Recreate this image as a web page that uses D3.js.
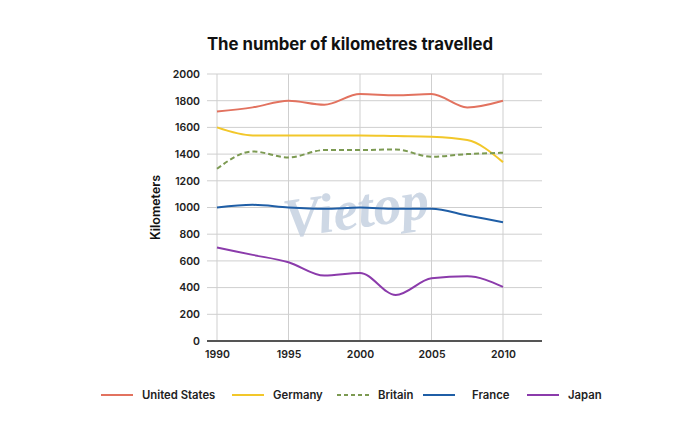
<!DOCTYPE html>
<html>
<head>
<meta charset="utf-8">
<script src="https://cdn.jsdelivr.net/npm/d3@7/dist/d3.min.js"></script>
<style>
  html, body { margin: 0; padding: 0; background: #ffffff; }
  svg { display: block; font-family: Inter, "Noto Sans", sans-serif; }
</style>
</head>
<body>
<svg id="chart" width="700" height="436"></svg>
<script>
const years = [1990, 1992.5, 1995, 1997.5, 2000, 2002.5, 2005, 2007.5, 2010];
const xTicks = [1990, 1995, 2000, 2005, 2010];
const yTicks = [0, 200, 400, 600, 800, 1000, 1200, 1400, 1600, 1800, 2000];
const seriesNames = ["United States", "Germany", "Britain", "France", "Japan"];
const unitedStates = [1720, 1750, 1800, 1770, 1850, 1840, 1850, 1750, 1800];
const germany      = [1600, 1540, 1540, 1540, 1540, 1535, 1530, 1505, 1340];
const britain      = [1290, 1420, 1375, 1430, 1430, 1435, 1380, 1400, 1410];
const france       = [1000, 1020, 1000, 990, 1000, 990, 990, 940, 890];
const japan        = [700, 645, 590, 490, 510, 345, 470, 485, 405];
const seriesValues = [unitedStates, germany, britain, france, japan];
const colors = ["#e2725f", "#f2c72a", "#7c9a52", "#1f5ea6", "#8b3bab"];
const dashes = [null, null, "5,3", null, null];

const svg = d3.select("#chart");
const pLeft = 207, pRight = 542, pTop = 74, pBottom = 341;
const x = d3.scaleLinear().domain([1990, 2010]).range([217, 503]);
const y = d3.scaleLinear().domain([0, 2000]).range([pBottom, pTop]);

// Title
svg.append("text").attr("x", 350).attr("y", 50).attr("text-anchor", "middle")
  .attr("font-size", 16.8).attr("font-weight", 700).attr("fill", "#111")
  .text("The number of kilometres travelled");

// horizontal grid
svg.append("g").selectAll("line").data(yTicks.filter(d => d > 0)).join("line")
  .attr("x1", pLeft).attr("x2", pRight)
  .attr("y1", d => y(d)).attr("y2", d => y(d))
  .attr("stroke", "#cfcfcf").attr("stroke-width", 1);
// vertical grid
svg.append("g").selectAll("line").data(xTicks).join("line")
  .attr("x1", d => x(d)).attr("x2", d => x(d))
  .attr("y1", pTop).attr("y2", pBottom)
  .attr("stroke", "#cfcfcf").attr("stroke-width", 1);

// y axis labels
const yAxis = d3.axisLeft(y).tickValues(yTicks).tickSize(0).tickPadding(0).tickFormat(d3.format("d"));
const gy = svg.append("g").attr("transform", `translate(${pLeft - 7},0)`).call(yAxis);
gy.select(".domain").remove();
gy.selectAll("text").attr("font-size", 10.5).attr("font-weight", 600).attr("fill", "#222")
  .attr("font-family", "Inter, sans-serif");

// x axis
const xAxis = d3.axisBottom(x).tickValues(xTicks).tickSize(0).tickPadding(10).tickFormat(d3.format("d"));
const gx = svg.append("g").attr("transform", `translate(0,${pBottom})`).call(xAxis);
gx.select(".domain").remove();
gx.selectAll("text").attr("font-size", 10.5).attr("font-weight", 600).attr("fill", "#222")
  .attr("font-family", "Inter, sans-serif");
svg.append("line").attr("x1", pLeft).attr("x2", pRight).attr("y1", pBottom).attr("y2", pBottom)
  .attr("stroke", "#555").attr("stroke-width", 2);

// y title
svg.append("text").attr("transform", `translate(160,${(pTop + pBottom) / 2}) rotate(-90)`)
  .attr("text-anchor", "middle").attr("font-size", 12.5).attr("font-weight", 600).attr("fill", "#111")
  .text("Kilometers");

// watermark
svg.append("text").attr("x", 356).attr("y", 228).attr("text-anchor", "middle")
  .attr("font-family", "'Liberation Serif', serif").attr("font-style", "italic").attr("font-weight", 700)
  .attr("font-size", 56).attr("fill", "#c3cfdf").attr("opacity", 0.8)
  .attr("transform", "rotate(-8,356,210)")
  .text("Vietop");

// lines
const line = d3.line().x((d, i) => x(years[i])).y(d => y(d)).curve(d3.curveMonotoneX);
svg.append("g").selectAll("path").data(seriesValues).join("path")
  .attr("d", d => line(d))
  .attr("fill", "none")
  .attr("stroke", (d, i) => colors[i])
  .attr("stroke-width", 2)
  .attr("stroke-dasharray", (d, i) => dashes[i]);

// legend
const legendX = [101, 232, 337, 423, 527];
const lg = svg.append("g").selectAll("g").data(seriesNames).join("g")
  .attr("transform", (d, i) => `translate(${legendX[i]},395)`);
lg.append("line").attr("x1", 0).attr("x2", 32).attr("y1", 0).attr("y2", 0)
  .attr("stroke", (d, i) => colors[i]).attr("stroke-width", 2)
  .attr("stroke-dasharray", (d, i) => dashes[i] ? "4,3" : null);
lg.append("text").attr("x", (d, i) => i === 3 ? 49 : 41).attr("y", 4)
  .attr("font-size", 11.3).attr("font-weight", 600).attr("fill", "#222")
  .text(d => d);
</script>
</body>
</html>
